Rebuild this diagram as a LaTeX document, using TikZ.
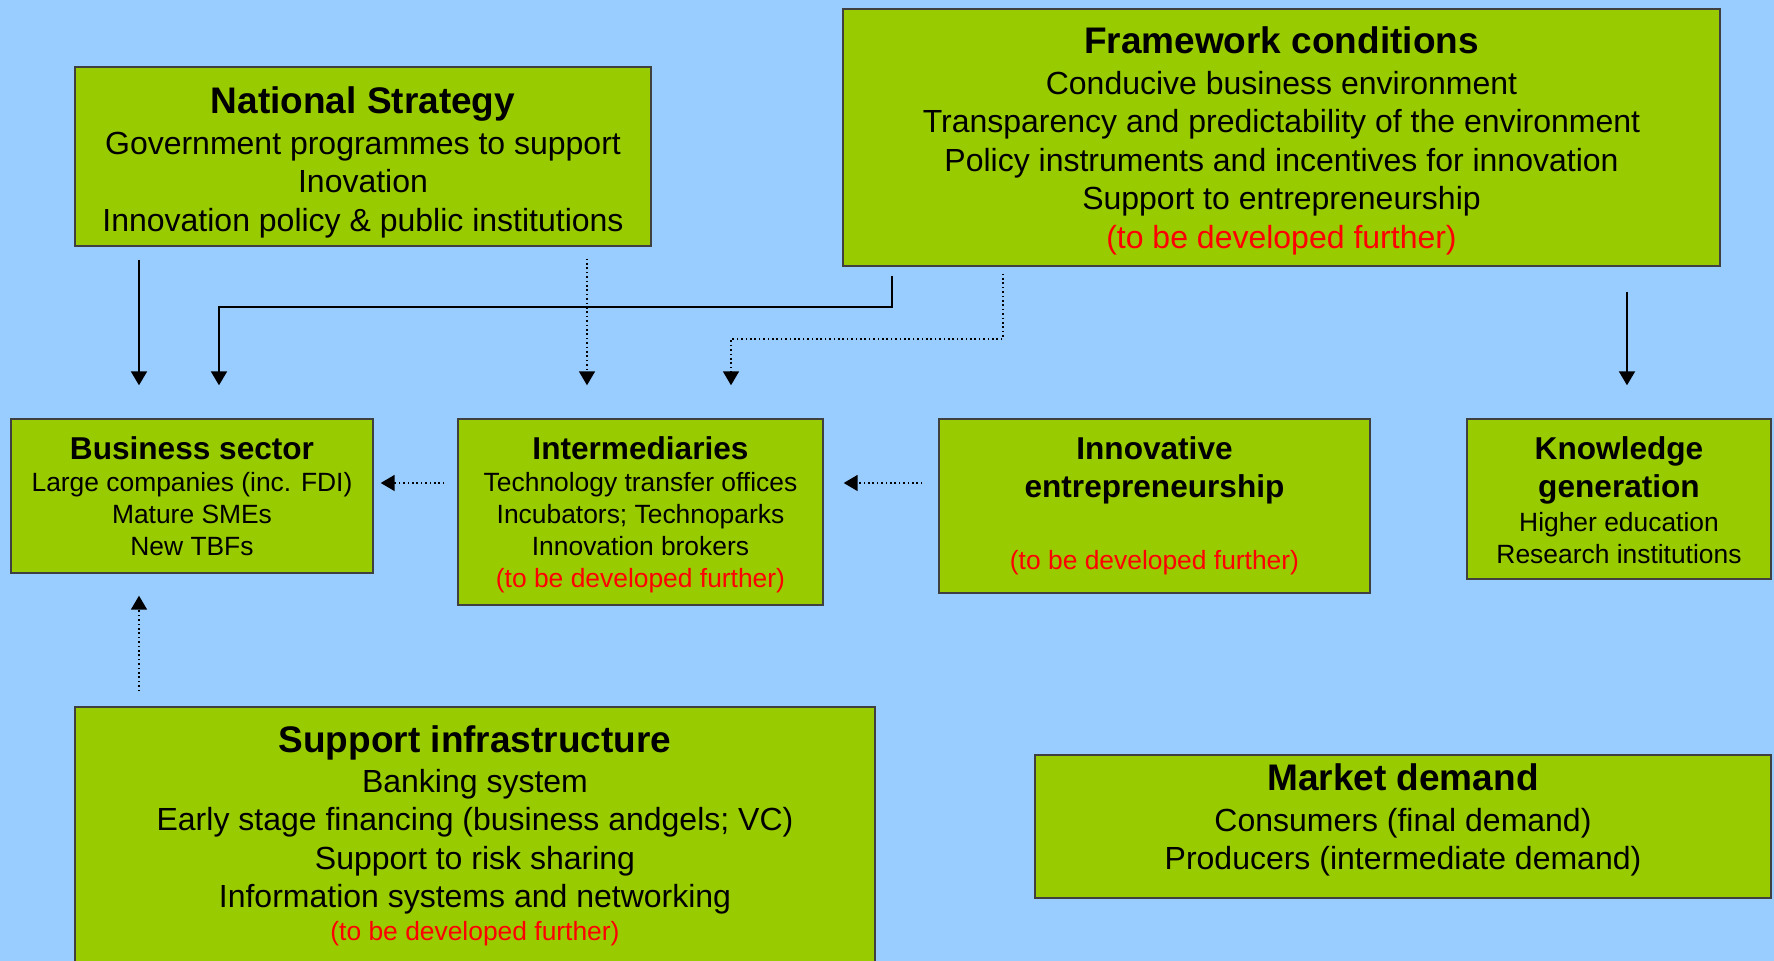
\documentclass[tikz,border=0pt]{standalone}
\usepackage{fontspec}
\setmainfont{Liberation Sans}
\usetikzlibrary{arrows.meta}
\definecolor{skyback}{HTML}{99CCFF}
\definecolor{leafgreen}{HTML}{99CC00}
\definecolor{boxedge}{HTML}{404040}
\newcommand{\bigtitle}[1]{{\fontsize{18.5}{21}\selectfont\bfseries #1}}
\newcommand{\smalltitle}[1]{{\fontsize{15.8}{19}\selectfont\bfseries #1}}
\newcommand{\tbd}{\textcolor{red}{(to be developed further)}}
\newcommand{\padtop}[1]{\rule{0pt}{#1}}
\newcommand{\padbot}[1]{\rule[-#1]{0pt}{#1}}
\begin{document}
\begin{tikzpicture}[x=0.5pt,y=-0.5pt]
\tikzstyle{box}=[rectangle,draw=boxedge,fill=leafgreen,line width=0.7pt,align=center,inner sep=0pt]
\tikzstyle{bigtext}=[font=\fontsize{16}{19.25}\selectfont]
\tikzstyle{smalltext}=[font=\fontsize{13.2}{16}\selectfont]
\tikzstyle{flow}=[line width=1pt,-{Triangle[length=7pt,width=8pt]}]
\tikzstyle{weakflow}=[flow,line width=0.8pt,dash pattern=on 0.8pt off 1.4pt]
\fill[skyback] (0,0) rectangle (1774,961);
\useasboundingbox (0,0) rectangle (1774,961);
% top row
\node [box,bigtext,minimum width=288pt,minimum height=89.5pt] (ns) at (363,156.5)
  {\padtop{19pt}\bigtitle{National Strategy}\\[1.1pt]Government programmes to support\\Inovation\\Innovation policy \& public institutions};
\node [box,bigtext,minimum width=438.5pt,minimum height=128.5pt] (fc) at (1281.5,137.5)
  {\padtop{16.7pt}\bigtitle{Framework conditions}\\[1.1pt]Conducive business environment\\Transparency and predictability of the environment\\Policy instruments and incentives for innovation\\Support to entrepreneurship\\\tbd};
% middle row
\node [box,smalltext,minimum width=181pt,minimum height=77pt] (bs) at (192,496)
  {\smalltitle{Business sector}\\Large companies (inc. FDI)\\Mature SMEs\\New TBFs};
\node [box,smalltext,minimum width=182.5pt,minimum height=93pt] (im) at (640.5,512)
  {\padtop{14.7pt}\smalltitle{Intermediaries}\\Technology transfer offices\\Incubators; Technoparks\\Innovation brokers\\\tbd};
\node [box,smalltext,minimum width=215.5pt,minimum height=87pt] (ie) at (1154.5,506)
  {\smalltitle{Innovative}\\[2.8pt]\smalltitle{entrepreneurship}\\[20.3pt]\tbd};
\node [box,smalltext,minimum width=152pt,minimum height=80pt] (kg) at (1619,499)
  {\padtop{13pt}\smalltitle{Knowledge}\\[2.8pt]\smalltitle{generation}\\[1.1pt]Higher education\\Research institutions};
% bottom row
\node [box,bigtext,minimum width=400pt,minimum height=129pt] (si) at (475,836)
  {\bigtitle{Support infrastructure}\\[0.6pt]Banking system\\Early stage financing (business andgels; VC)\\Support to risk sharing\\Information systems and networking\\[-2.8pt]{\fontsize{13.2}{16}\selectfont\tbd}};
\node [box,bigtext,minimum width=368pt,minimum height=71.5pt] (md) at (1403,826.5)
  {\bigtitle{Market demand}\\[1.1pt]Consumers (final demand)\\Producers (intermediate demand)\padbot{9.6pt}};
% bends of the connectors
\coordinate (a1) at (139,0);
\coordinate (b1) at (892,307);
\coordinate (b2) at (219,307);
\coordinate (c1) at (587,0);
\coordinate (d1) at (1003,339);
\coordinate (d2) at (731,339);
\coordinate (e1) at (1627,0);
% connectors
\draw [flow,shorten <=6.5pt,shorten >=16.5pt] (ns.south -| a1) -- (bs.north -| a1);
\draw [flow,shorten >=16.5pt] ([yshift=-4.5pt]fc.south -| b1) -- (b1) -- (b2) -- (bs.north -| b2);
\draw [weakflow,shorten <=6pt,shorten >=16.5pt] (ns.south -| c1) -- (im.north -| c1);
\draw [weakflow,shorten >=16.5pt] ([yshift=-3.5pt]fc.south -| d1) -- (d1) -- (d2) -- (im.north -| d2);
\draw [flow,shorten <=12.5pt,shorten >=16.5pt] (fc.south -| e1) -- (kg.north -| e1);
\draw [weakflow,shorten <=6.5pt,shorten >=3.5pt] (im.west |- 0,483) -- (bs.east |- 0,483);
\draw [weakflow,shorten <=8pt,shorten >=10pt] (ie.west |- 0,483) -- (im.east |- 0,483);
\draw [weakflow,shorten <=7.5pt,shorten >=11pt] (si.north -| a1) -- (bs.south -| a1);
\end{tikzpicture}
\end{document}
